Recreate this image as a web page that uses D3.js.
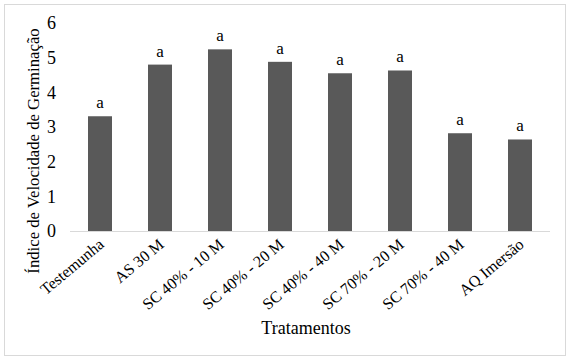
<!DOCTYPE html>
<html><head><meta charset="utf-8">
<script src="https://cdn.jsdelivr.net/npm/d3@7"></script>
<style>body{margin:0;background:#fff}svg{display:block}</style>
</head><body>
<script>
const categories = ["Testemunha","AS 30 M","SC 40% - 10 M","SC 40% - 20 M","SC 40% - 40 M","SC 70% - 20 M","SC 70% - 40 M","AQ Imersão"];
const values = [3.31, 4.80, 5.24, 4.88, 4.55, 4.63, 2.82, 2.64];
const letters = ["a","a","a","a","a","a","a","a"];
const yTicks = [0,1,2,3,4,5,6];

const FONT = "Liberation Serif, Times New Roman, serif";
const W = 573, H = 362;
const svg = d3.select("body").append("svg").attr("width", W).attr("height", H)
  .attr("font-family", FONT).style("font-family", FONT);
svg.append("rect").attr("x",4.5).attr("y",4.5).attr("width",561).attr("height",351)
  .attr("fill","#fff").attr("stroke","#d9d9d9");

const x = d3.scaleBand().domain(categories).range([70,550]).paddingInner(0.6).paddingOuter(0.3);
const y = d3.scaleLinear().domain([0,6]).range([231,23]);

svg.append("g").selectAll("rect").data(values).join("rect")
  .attr("x",(d,i)=>x(categories[i])).attr("width",x.bandwidth())
  .attr("y",d=>y(d)).attr("height",d=>y(0)-y(d)).attr("fill","#595959");

svg.append("line").attr("x1",70).attr("x2",550).attr("y1",y(0)+0.5).attr("y2",y(0)+0.5).attr("stroke","#d9d9d9");

svg.append("g").selectAll("text").data(yTicks).join("text")
  .attr("x",56).attr("y",d=>y(d)).attr("dy","0.35em").attr("text-anchor","end")
  .attr("font-family",FONT).attr("font-size",18).text(d=>d);

svg.append("g").selectAll("text").data(values).join("text")
  .attr("x",(d,i)=>x(categories[i])+x.bandwidth()/2).attr("y",d=>y(d)-8)
  .attr("text-anchor","middle").attr("font-family",FONT).attr("font-size",17).text((d,i)=>letters[i]);

svg.append("g").selectAll("text").data(categories).join("text")
  .attr("text-anchor","end").attr("font-family",FONT).attr("font-size",16)
  .attr("transform",d=>`translate(${x(d)+x.bandwidth()/2+5},${246}) rotate(-40)`)
  .text(d=>d);

svg.append("text").attr("x",306).attr("y",334).attr("text-anchor","middle")
  .attr("font-family",FONT).attr("font-size",18).text("Tratamentos");
svg.append("text").attr("transform","translate(39,151) rotate(-90)").attr("text-anchor","middle")
  .attr("font-family",FONT).attr("font-size",16.7).text("Índice de Velocidade de Germinação");
</script>
</body></html>
